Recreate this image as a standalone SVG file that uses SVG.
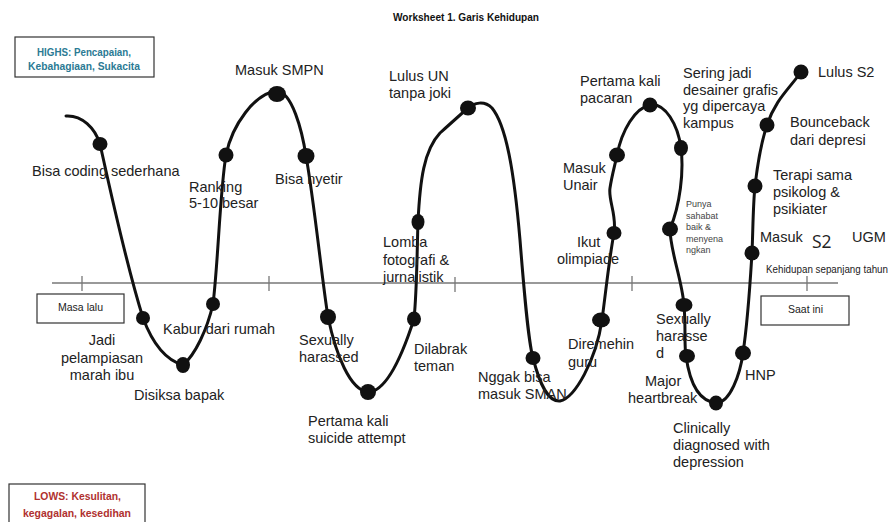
<svg xmlns="http://www.w3.org/2000/svg" width="896" height="522" viewBox="0 0 896 522">
<style>
.lbl{font-family:"Liberation Sans",Arial,sans-serif;font-size:14.5px;fill:#222}
.sm{font-family:"Liberation Sans",Arial,sans-serif;font-size:9px;fill:#444}
.cap{font-family:"Liberation Sans",Arial,sans-serif;font-size:11px;fill:#222}
.hd{font-family:"Liberation Sans",Arial,sans-serif;font-size:11.5px;font-weight:bold}
.dot{fill:#111}
.box{fill:#fff;stroke:#333;stroke-width:1.2}
.axis{stroke:#777;stroke-width:1.3;fill:none}
.curve{fill:none;stroke:#111;stroke-width:3;stroke-linecap:round;stroke-linejoin:round}
</style>
<rect width="896" height="522" fill="#fff"/>
<text x="393" y="21" class="hd" style="font-size:10.5px;fill:#111" textLength="146" lengthAdjust="spacingAndGlyphs">Worksheet 1. Garis Kehidupan</text>

<g id="highs">
<rect x="15" y="37" width="139" height="40" class="box"/>
<text x="84" y="56" class="hd" fill="#2b7a94" text-anchor="middle" textLength="94" lengthAdjust="spacingAndGlyphs">HIGHS: Pencapaian,</text>
<text x="84" y="69.5" class="hd" fill="#2b7a94" text-anchor="middle" textLength="112" lengthAdjust="spacingAndGlyphs">Kebahagiaan, Sukacita</text>
</g>
<g id="lows">
<rect x="9" y="484" width="136" height="40" class="box"/>
<text x="77.5" y="500" class="hd" fill="#b0312f" text-anchor="middle" textLength="87" lengthAdjust="spacingAndGlyphs">LOWS: Kesulitan,</text>
<text x="77" y="517" class="hd" fill="#b0312f" text-anchor="middle" textLength="108" lengthAdjust="spacingAndGlyphs">kegagalan, kesedihan</text>
</g>

<g id="axis">
<line x1="52" y1="283" x2="838" y2="283" class="axis"/>
<line x1="82" y1="276" x2="82" y2="291" class="axis"/>
<line x1="269" y1="276" x2="269" y2="291" class="axis"/>
<line x1="455" y1="277" x2="455" y2="292" class="axis"/>
<line x1="632" y1="276" x2="632" y2="291" class="axis"/>
<line x1="807" y1="276" x2="807" y2="291" class="axis"/>
<text x="766" y="273" class="cap" style="font-size:10px" textLength="122" lengthAdjust="spacingAndGlyphs">Kehidupan sepanjang tahun</text>
</g>
<g id="masa-lalu">
<rect x="37" y="294" width="87" height="29" class="box"/>
<text x="80.5" y="311" class="cap" text-anchor="middle" textLength="45" lengthAdjust="spacingAndGlyphs">Masa lalu</text>
</g>
<g id="saat-ini">
<rect x="761" y="296" width="88" height="29" class="box"/>
<text x="805.5" y="313" class="cap" text-anchor="middle" textLength="35" lengthAdjust="spacingAndGlyphs">Saat ini</text>
</g>

<g id="connectors">
<path class="curve" d="M66,116 C82,115 95,128 100,144 C108,180 125,260 143,318 C152,342 165,360 183,365 C195,355 207,330 213,304 C218,265 220,190 226,155 C232,125 255,93 277,91 C292,92 302,130 306,156 C314,200 322,280 328,317 C336,355 350,390 368,392 C388,392 404,350 414,319 C417,290 417,250 418,222 C420,180 424,150 440,133 C450,124 460,115 468,108 C474,103 484,100 492,108 C506,125 514,170 520,240 C524,290 528,340 533,358 C540,385 548,402 560,401 C575,398 596,360 602,320 C606,290 609,260 614,233 C617,215 608,200 610,188 C612,175 615,165 617,155 C622,130 635,108 650,105 C665,102 678,125 681,148 C684,172 680,205 670,229 C670,250 682,280 684,305 C686,330 684,345 686,356 C690,385 700,402 717,403 C730,402 740,375 743,353 C748,320 750,285 752,253 C753,230 753,205 755,186 C758,160 762,140 767,125 C775,100 790,88 801,72"/>
</g>

<g id="n1"><ellipse cx="100" cy="144" rx="7.5" ry="7" class="dot"/><text x="32" y="176" class="lbl">Bisa coding sederhana</text></g>
<g id="n2"><ellipse cx="143" cy="318" rx="7" ry="7" class="dot"/><text x="102" y="345" class="lbl" text-anchor="middle"><tspan x="102">Jadi</tspan><tspan x="102" dy="17.5">pelampiasan</tspan><tspan x="102" dy="17.5">marah ibu</tspan></text></g>
<g id="n3"><ellipse cx="183" cy="365" rx="7" ry="8" class="dot"/><text x="134" y="400" class="lbl">Disiksa bapak</text></g>
<g id="n4"><ellipse cx="213" cy="304" rx="7" ry="7" class="dot"/><text x="163" y="334" class="lbl">Kabur dari rumah</text></g>
<g id="n5"><ellipse cx="226" cy="155" rx="7.5" ry="7.5" class="dot"/><text x="189" y="192" class="lbl"><tspan x="189">Ranking</tspan><tspan x="189" dy="16">5-10 besar</tspan></text></g>
<g id="n6"><ellipse cx="277" cy="94" rx="9" ry="8" class="dot"/><text x="235" y="75" class="lbl">Masuk SMPN</text></g>
<g id="n7"><ellipse cx="306" cy="156" rx="8.5" ry="8" class="dot"/><text x="275" y="184" class="lbl">Bisa nyetir</text></g>
<g id="n8"><ellipse cx="328" cy="317" rx="8" ry="8" class="dot"/><text x="299" y="345" class="lbl"><tspan x="299">Sexually</tspan><tspan x="299" dy="17">harassed</tspan></text></g>
<g id="n9"><ellipse cx="368" cy="392" rx="8" ry="8" class="dot"/><text x="308" y="426" class="lbl"><tspan x="308">Pertama kali</tspan><tspan x="308" dy="17">suicide attempt</tspan></text></g>
<g id="n10"><ellipse cx="414" cy="319" rx="7" ry="7.5" class="dot"/><text x="414" y="354" class="lbl"><tspan x="414">Dilabrak</tspan><tspan x="414" dy="17">teman</tspan></text></g>
<g id="n11"><ellipse cx="418" cy="222" rx="6.5" ry="8" class="dot"/><text x="383" y="247" class="lbl"><tspan x="383">Lomba</tspan><tspan x="383" dy="17.5">fotografi &amp;</tspan><tspan x="383" dy="17.5">jurnalistik</tspan></text></g>
<g id="n12"><ellipse cx="468" cy="108" rx="8" ry="7.5" class="dot"/><text x="389" y="81" class="lbl"><tspan x="389">Lulus UN</tspan><tspan x="389" dy="17">tanpa joki</tspan></text></g>
<g id="n13"><ellipse cx="533" cy="358" rx="7.5" ry="7" class="dot"/><text x="478" y="382" class="lbl"><tspan x="478">Nggak bisa</tspan><tspan x="478" dy="16.5">masuk SMAN</tspan></text></g>
<g id="n14"><ellipse cx="601" cy="320" rx="9" ry="7.5" class="dot"/><text x="568" y="349" class="lbl"><tspan x="568">Diremehin</tspan><tspan x="568" dy="17.5">guru</tspan></text></g>
<g id="n15"><ellipse cx="614" cy="233" rx="7.5" ry="7" class="dot"/><text x="577" y="247" class="lbl"><tspan x="577">Ikut</tspan><tspan x="557" dy="16.5">olimpiade</tspan></text></g>
<g id="n16"><ellipse cx="617" cy="155" rx="8" ry="7.5" class="dot"/><text x="563" y="173" class="lbl"><tspan x="563">Masuk</tspan><tspan x="563" dy="17">Unair</tspan></text></g>
<g id="n17"><ellipse cx="650" cy="105" rx="7.5" ry="7.5" class="dot"/><text x="580" y="86" class="lbl"><tspan x="580">Pertama kali</tspan><tspan x="580" dy="17">pacaran</tspan></text></g>
<g id="n18"><ellipse cx="681" cy="148" rx="7" ry="8" class="dot"/><text x="683" y="78" class="lbl"><tspan x="683">Sering jadi</tspan><tspan x="683" dy="16.5">desainer grafis</tspan><tspan x="683" dy="16.5">yg dipercaya</tspan><tspan x="683" dy="16.5">kampus</tspan></text></g>
<g id="n19"><ellipse cx="670" cy="229" rx="8" ry="7.5" class="dot"/><text x="686" y="207" class="sm"><tspan x="686">Punya</tspan><tspan x="686" dy="11.5">sahabat</tspan><tspan x="686" dy="11.5">baik &amp;</tspan><tspan x="686" dy="11.5">menyena</tspan><tspan x="686" dy="11.5">ngkan</tspan></text></g>
<g id="n20"><ellipse cx="684" cy="305" rx="8.5" ry="7" class="dot"/><text x="656" y="324" class="lbl"><tspan x="656">Sexually</tspan><tspan x="656" dy="17">harasse</tspan><tspan x="656" dy="17">d</tspan></text></g>
<g id="n21"><ellipse cx="687" cy="356" rx="8" ry="7" class="dot"/><text x="645" y="386" class="lbl"><tspan x="645">Major</tspan><tspan x="628" dy="17">heartbreak</tspan></text></g>
<g id="n22"><ellipse cx="716" cy="403" rx="7" ry="7.5" class="dot"/><text x="673" y="433" class="lbl"><tspan x="673">Clinically</tspan><tspan x="673" dy="17">diagnosed with</tspan><tspan x="673" dy="17">depression</tspan></text></g>
<g id="n23"><ellipse cx="743" cy="353" rx="8" ry="7.5" class="dot"/><text x="745" y="380" class="lbl">HNP</text></g>
<g id="n24"><ellipse cx="752" cy="253" rx="7.5" ry="7.5" class="dot"/><text x="760" y="242" class="lbl">Masuk</text><text x="812" y="248" style="font-family:'Open Sans','DejaVu Sans',sans-serif;font-size:17.5px;fill:#222">S2</text><text x="852" y="242" class="lbl">UGM</text></g>
<g id="n25"><ellipse cx="755" cy="186" rx="7.5" ry="7.5" class="dot"/><text x="773" y="180" class="lbl"><tspan x="773">Terapi sama</tspan><tspan x="773" dy="17">psikolog &amp;</tspan><tspan x="773" dy="17">psikiater</tspan></text></g>
<g id="n26"><ellipse cx="767" cy="125" rx="7.5" ry="7.5" class="dot"/><text x="790" y="127" class="lbl"><tspan x="790">Bounceback</tspan><tspan x="790" dy="18">dari depresi</tspan></text></g>
<g id="n27"><ellipse cx="801" cy="72" rx="7.5" ry="7.5" class="dot"/><text x="818" y="77" class="lbl">Lulus S2</text></g>
</svg>
